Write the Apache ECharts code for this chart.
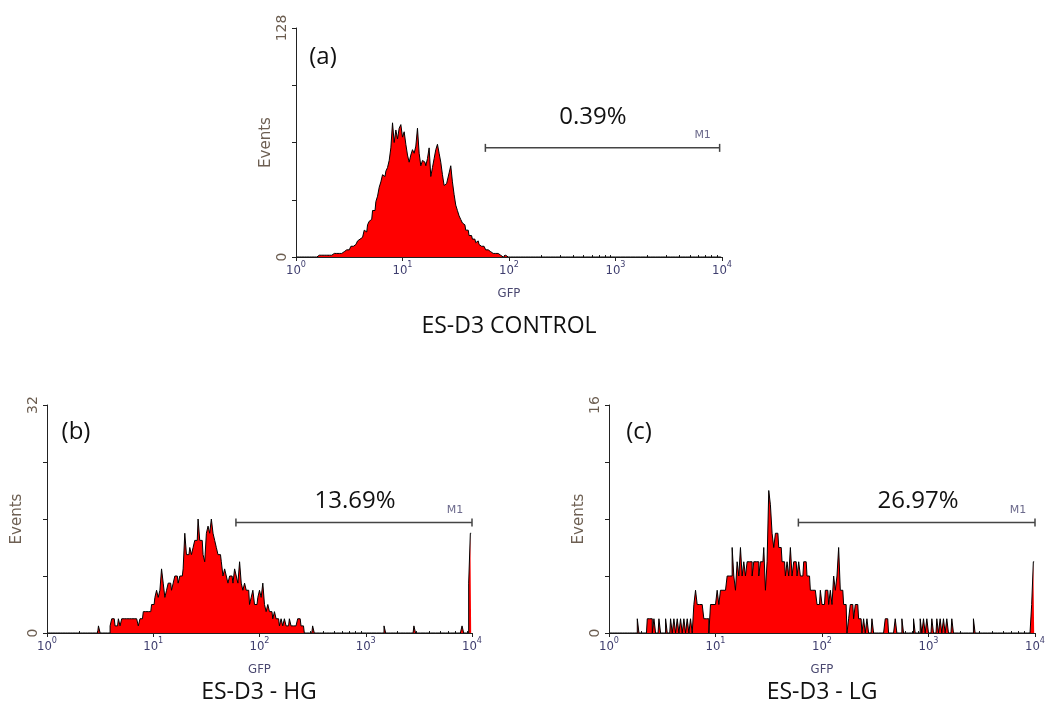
<!DOCTYPE html>
<html><head><meta charset="utf-8">
<script src="https://cdn.jsdelivr.net/npm/echarts@6/dist/echarts.min.js"></script>
<style>html,body{margin:0;padding:0;background:#fff}#chart{width:1052px;height:710px}</style>
</head><body><div id="chart"></div>
<script>
// ---- data ----
const channels = 256;          // histogram channels spread over the log GFP axis
const decades = 4;             // 10^0 .. 10^4
const xTickBase = '10';
const xTickExponents = ['0', '1', '2', '3', '4'];
const minorTickMultipliers = [2, 3, 4, 5, 6, 7, 8, 9];
const panelLetters = ['(a)', '(b)', '(c)'];
const panelTitles = ['ES-D3 CONTROL', 'ES-D3 - HG', 'ES-D3 - LG'];
const percentLabels = ['0.39%', '13.69%', '26.97%'];
const yMax = [128, 32, 16];
const markerStart = [60, 60, 60];
const markerEnd = [9500, 10000, 10000];
const markerLevel = [61, 15.5, 7.75];

// panel (a) ES-D3 CONTROL: counts from channel 12
const startA = 12;
const countsA = [
  0,1,0,1,1,0,1,1,
  1,1,2,1,2,2,3,2,3,4,
  4,4,5,6,6,7,8,9,10,11,
  12,15,14,18,20,21,26,26,31,34,
  39,42,46,45,48,50,54,61,75,64,
  71,66,72,74,67,70,63,57,53,57,
  60,58,62,72,58,51,54,53,51,55,
  61,45,50,55,60,63,58,53,46,40,
  41,43,47,51,42,35,29,26,23,21,
  19,18,15,15,12,12,10,10,8,9,
  7,6,6,5,4,4,3,3,2,2,
  1,2,1,1,0,1
];
const tailA = [];

// panel (b) ES-D3 - HG: counts from channel 30
const startB = 30;
const countsB = [
  0,1,0,0,0,0,0,0,1,2,
  2,1,1,2,1,2,2,2,2,2,
  2,2,2,2,2,1,2,2,3,3,
  3,3,3,4,4,5,6,5,6,9,
  7,5,6,7,7,6,7,8,8,7,
  8,8,9,14,11,11,12,11,12,13,
  13,16,13,13,11,10,14,15,14,16,
  14,13,12,11,11,10,8,9,8,7,
  8,8,7,9,8,7,10,7,6,7,
  6,6,4,5,6,4,4,5,6,5,
  7,4,3,4,3,3,2,3,2,2,
  1,2,1,2,1,1,2,1,1,1,
  1,2,2,1,1,0,0,0,0,0,
  1
];
const tailB = [[203, 1], [221, 1], [250, 1], [254, 7], [255, 14]];

// panel (c) ES-D3 - LG: counts from channel 17
const startC = 17;
const countsC = [
  1,0,0,0,0,0,1,1,1,0,
  1,0,0,1,0,0,0,1,0,0,
  1,0,1,0,1,0,1,0,1,0,
  1,0,1,0,2,3,2,2,2,2,
  1,1,1,0,2,2,2,2,3,2,
  3,3,3,3,4,4,4,6,4,3,
  5,4,6,4,5,4,5,5,5,4,
  5,5,5,4,5,5,6,3,5,10,
  9,7,6,7,7,6,6,5,5,4,
  5,4,6,4,5,5,4,5,4,4,
  5,5,4,4,3,3,3,3,2,2,
  3,2,2,3,3,2,3,2,4,3,
  4,6,3,3,2,2,0,1,2,2,
  1,2,2,1,1,0,1,0,1,0,
  0,1
];
const tailC = [[166,1],[167,1],[172,1],[176,1],[183,1],[187,1],[189,1],[191,1],[194,1],[197,1],[199,1],[201,1],[203,1],[206,1],[219,1],[254,2],[255,5]];

// ---- build ----
function buildSeriesData(start, counts, tail) {
  const arr = new Array(channels).fill(0);
  counts.forEach((v, i) => { arr[start + i] = v; });
  tail.forEach(([b, v]) => { arr[b] = v; });
  return arr.map((v, i) => [(i + 0.5) * decades / channels, v]);
}
const histData = [
  buildSeriesData(startA, countsA, tailA),
  buildSeriesData(startB, countsB, tailB),
  buildSeriesData(startC, countsC, tailC)
];
const minorTicks = [];
for (let d = 0; d < decades; d++) minorTickMultipliers.forEach(m => minorTicks.push(Math.log10(m * Math.pow(10, d))));

const grids = [
  { left: 296, top: 28, width: 426, height: 229 },
  { left: 47, top: 405, width: 425, height: 228 },
  { left: 609, top: 405, width: 426, height: 228 }
];
const axisColor = '#222';
const xLabelColor = '#3e3d6e';
const yLabelColor = '#6b5d50';
const smallFont = '"DejaVu Sans Condensed", "DejaVu Sans"';

const xAxis = [], yAxis = [], series = [];
grids.forEach((g, i) => {
  xAxis.push({
    type: 'value', gridIndex: i, min: 0, max: decades, interval: 1,
    axisLine: { show: true, onZero: false, lineStyle: { color: axisColor, width: 1 } },
    axisTick: { show: true, length: 4, lineStyle: { color: axisColor } },
    axisLabel: {
      formatter: v => '{n|' + xTickBase + '}{s|' + xTickExponents[Math.round(v)] + '}',
      margin: 3,
      rich: {
        n: { fontFamily: smallFont, fontSize: 13, color: xLabelColor, lineHeight: 17, verticalAlign: 'bottom' },
        s: { fontFamily: smallFont, fontSize: 9, color: xLabelColor, lineHeight: 10, verticalAlign: 'top' }
      }
    },
    splitLine: { show: false },
    name: 'GFP', nameLocation: 'middle', nameGap: 30,
    nameTextStyle: { fontFamily: smallFont, fontSize: 13, color: '#4a4870' }
  });
  xAxis.push({
    type: 'value', gridIndex: i, min: 0, max: decades,
    axisLine: { show: false },
    axisTick: { show: true, length: 2, customValues: minorTicks, lineStyle: { color: axisColor } },
    axisLabel: { show: false },
    splitLine: { show: false }
  });
  yAxis.push({
    type: 'value', gridIndex: i, min: 0, max: yMax[i], interval: yMax[i] / 4,
    axisLine: { show: true, lineStyle: { color: axisColor, width: 1 } },
    axisTick: { show: true, length: 4, lineStyle: { color: axisColor } },
    axisLabel: { rotate: 90, margin: 7, formatter: v => (v === 0 || v === yMax[i]) ? String(v) : '', fontFamily: '"DejaVu Sans"', fontSize: 14, color: yLabelColor },
    splitLine: { show: false },
    name: 'Events', nameLocation: 'middle', nameGap: 20,
    nameTextStyle: { fontFamily: '"DejaVu Sans"', fontSize: 15, color: '#6d5f52' }
  });
  series.push({
    type: 'line', xAxisIndex: 2 * i, yAxisIndex: i, data: histData[i],
    step: 'middle', symbol: 'none', silent: true,
    lineStyle: { color: '#000', width: 1 },
    areaStyle: { color: '#ff0000', opacity: 1 },
    z: 2
  });
  series.push({
    type: 'line', xAxisIndex: 2 * i, yAxisIndex: i, silent: true,
    data: [
      [Math.log10(markerStart[i]), markerLevel[i]],
      { value: [Math.log10(markerEnd[i]), markerLevel[i]],
        label: { show: true, formatter: 'M1', position: 'top', distance: 3, offset: [-17, 0],
                 fontFamily: '"DejaVu Sans"', fontSize: 11, color: '#6c6a8c' } }
    ],
    symbol: 'rect', symbolSize: [1.5, 8],
    lineStyle: { color: '#444', width: 1.5 },
    itemStyle: { color: '#444' },
    z: 3
  });
});

const bigFont = '"Open Sans", "DejaVu Sans", sans-serif';
const textPos = {
  letters: [[323, 57], [76, 432], [639, 432]],
  percents: [[593, 117], [355, 501], [918, 501]],
  titles: [[509, 326], [259, 692], [822, 692]]
};
const graphic = [];
for (let i = 0; i < 3; i++) {
  graphic.push({ type: 'text', x: textPos.letters[i][0], y: textPos.letters[i][1],
    style: { text: panelLetters[i], font: '24px ' + bigFont, fill: '#111', align: 'center', verticalAlign: 'middle' } });
  graphic.push({ type: 'text', x: textPos.percents[i][0], y: textPos.percents[i][1],
    style: { text: percentLabels[i], font: '24px ' + bigFont, fill: '#111', align: 'center', verticalAlign: 'middle' } });
  graphic.push({ type: 'text', x: textPos.titles[i][0], y: textPos.titles[i][1],
    style: { text: panelTitles[i], font: '23px ' + bigFont, fill: '#111', align: 'center', verticalAlign: 'middle' } });
}

const chart = echarts.init(document.getElementById('chart'), null, { renderer: 'canvas' });
chart.setOption({
  animation: false,
  backgroundColor: '#fff',
  grid: grids,
  xAxis: xAxis,
  yAxis: yAxis,
  series: series,
  graphic: graphic
});
</script></body></html>
